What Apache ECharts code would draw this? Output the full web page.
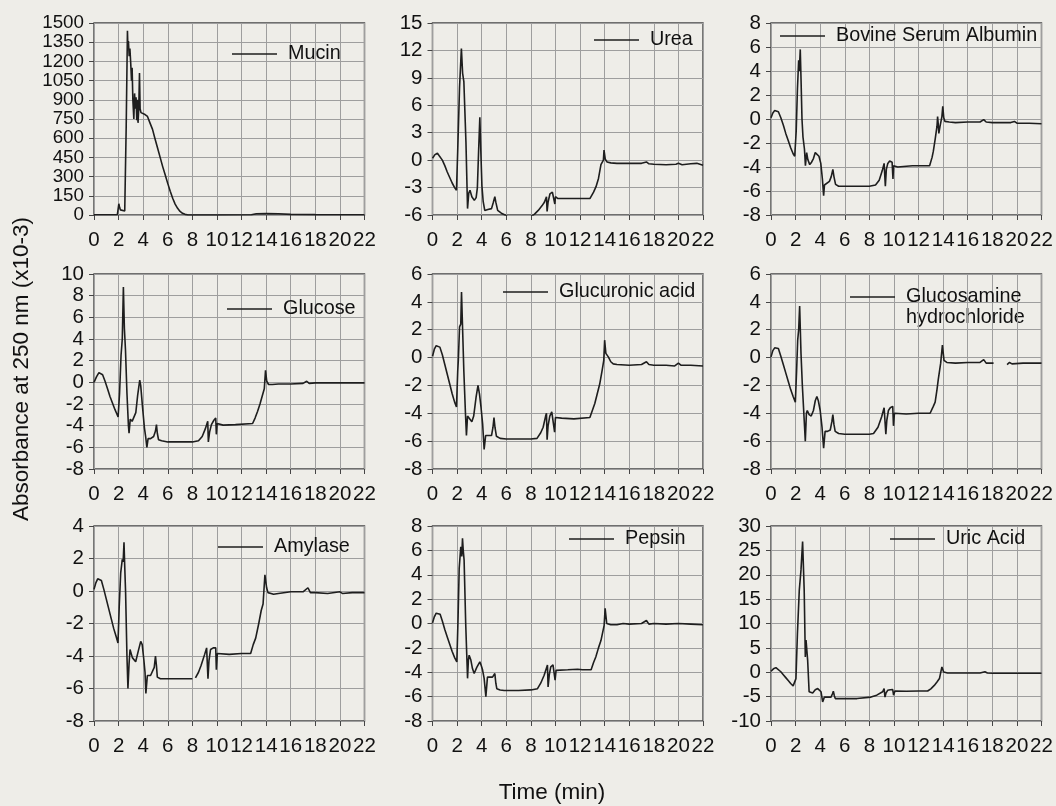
<!DOCTYPE html>
<html>
<head>
<meta charset="utf-8">
<script src="https://cdn.jsdelivr.net/npm/echarts@6/dist/echarts.min.js"></script>
<style>
  html, body { margin: 0; padding: 0; background: #eeede8; }
  #chart { width: 1056px; height: 806px; }
</style>
</head>
<body>
<div id="chart"></div>
<script>
// Chromatograms of nine compounds: absorbance at 250 nm (x10-3) against time (min).
// Each trace is a list of [time, absorbance] pairs; a null value breaks the trace.

const mucin = [
  [0,2],[1,2],[1.9,3],[1.97,10],[2.02,88],[2.08,60],[2.15,40],[2.3,30],[2.5,32],[2.55,40],
  [2.62,700],[2.72,1440],[2.76,1300],[2.8,1360],[2.86,1240],[2.92,1300],[2.99,1180],[3.05,1050],
  [3.1,1150],[3.16,900],[3.24,750],[3.3,950],[3.36,830],[3.42,920],[3.48,740],[3.52,900],
  [3.58,720],[3.64,830],[3.7,1110],[3.75,830],[3.82,800],[3.95,795],[4.15,785],[4.35,770],
  [4.55,720],[4.76,669],[4.95,600],[5.17,524],[5.38,450],[5.58,380],[5.8,310],[5.99,249],
  [6.2,185],[6.4,131],[6.6,85],[6.8,52],[7.0,28],[7.2,13],[7.4,5],[7.65,0],[10,0],
  [12.8,2],[13.2,10],[14,12],[15,10],[16,5],[18,3],[20,2],[22,2]
];

const urea = [
  [0,0.2],[0.2,0.6],[0.4,0.75],[0.55,0.6],[0.8,0],[1.0,-0.6],[1.2,-1.3],[1.4,-1.9],[1.6,-2.5],
  [1.8,-3.0],[1.95,-3.3],[2.05,1],[2.2,8],[2.35,12.2],[2.45,9.5],[2.55,8.6],[2.62,8.8],[2.72,2],
  [2.85,-5.3],[2.95,-3.6],[3.05,-3.3],[3.2,-4.0],[3.4,-4.4],[3.55,-4.1],[3.65,-3],[3.75,1],
  [3.85,4.7],[3.93,1],[4.02,-2.8],[4.12,-4.5],[4.25,-5.5],[4.5,-5.4],[4.8,-5.3],[4.95,-4.6],
  [5.07,-4.0],[5.15,-4.6],[5.3,-5.5],[5.6,-5.8],[5.9,-6.0],[6.2,-6.3],[7.5,-6.4],[8.0,-6.2],
  [8.3,-5.9],[8.6,-5.5],[8.9,-5.0],[9.1,-4.6],[9.27,-4.0],[9.32,-5.6],[9.4,-4.6],[9.55,-3.7],
  [9.75,-3.5],[9.9,-3.5],[9.95,-4.8],[10.0,-4.0],[10.2,-4.2],[11,-4.2],[12,-4.2],[12.8,-4.2],
  [13.1,-3.5],[13.3,-2.9],[13.5,-2.0],[13.7,-0.5],[13.9,0],[13.95,1.1],[14.05,0.1],[14.2,-0.2],
  [14.5,-0.3],[15,-0.35],[16,-0.35],[17,-0.35],[17.4,-0.2],[17.6,-0.4],[18,-0.45],[19,-0.5],
  [19.8,-0.45],[20,-0.35],[20.3,-0.5],[21,-0.4],[21.5,-0.35],[22,-0.55]
];

const bsa = [
  [0,0.1],[0.15,0.5],[0.3,0.7],[0.45,0.75],[0.6,0.6],[0.8,0.1],[1.0,-0.5],[1.2,-1.2],[1.4,-1.8],
  [1.6,-2.4],[1.8,-2.9],[1.93,-3.1],[2.05,-1],[2.15,2.5],[2.25,4.9],[2.3,4.0],[2.38,5.8],[2.45,3],
  [2.52,0],[2.6,-1.5],[2.72,-2.5],[2.8,-3.9],[2.9,-2.8],[3.0,-3.4],[3.15,-3.8],[3.3,-3.6],
  [3.45,-3.3],[3.6,-2.8],[3.75,-2.75],[3.9,-3.1],[4.05,-3.7],[4.18,-5.0],[4.28,-6.4],[4.35,-5.5],
  [4.5,-5.4],[4.75,-5.2],[4.9,-4.8],[5.03,-4.2],[5.12,-4.8],[5.25,-5.45],[5.5,-5.6],[6,-5.6],
  [7,-5.6],[8,-5.6],[8.5,-5.5],[8.8,-5.1],[9.05,-4.3],[9.2,-3.7],[9.27,-3.6],[9.3,-5.6],
  [9.38,-4.2],[9.5,-3.7],[9.65,-3.5],[9.85,-3.6],[9.92,-5.0],[9.97,-3.9],[10.3,-4.0],
  [11.5,-3.9],[12.9,-3.9],[13.1,-3.2],[13.2,-2.7],[13.35,-1.7],[13.5,-0.6],[13.55,0.2],
  [13.6,-0.4],[13.65,-1.2],[13.75,-0.6],[13.9,0.2],[13.97,1.05],[14.05,0.1],[14.15,-0.2],
  [14.5,-0.25],[15,-0.3],[16,-0.25],[17,-0.25],[17.3,-0.05],[17.5,-0.25],[18,-0.3],[19.5,-0.3],
  [19.8,-0.2],[20,-0.35],[21,-0.35],[22,-0.4]
];

const glucose = [
  [0,0],[0.2,0.5],[0.4,0.9],[0.55,0.95],[0.7,0.7],[0.9,0.1],[1.1,-0.6],[1.3,-1.3],[1.5,-1.9],
  [1.7,-2.5],[1.85,-2.9],[1.96,-3.2],[2.08,-1],[2.2,2.5],[2.3,4],[2.39,8.8],[2.47,5],[2.56,3],
  [2.68,-1],[2.8,-4.0],[2.85,-4.7],[2.95,-3.4],[3.1,-3.6],[3.26,-3.7],[3.4,-2.8],[3.55,-1.2],
  [3.72,0.2],[3.8,-0.3],[3.94,-2.2],[4.1,-4.2],[4.2,-5.0],[4.3,-6.0],[4.4,-5.2],[4.6,-5.2],
  [4.85,-5.0],[5.0,-4.5],[5.08,-3.9],[5.15,-4.7],[5.25,-5.3],[5.5,-5.4],[6,-5.5],[7,-5.5],
  [8,-5.5],[8.5,-5.4],[8.8,-5.0],[9.05,-4.3],[9.25,-3.6],[9.3,-5.5],[9.4,-4.6],[9.55,-3.9],
  [9.75,-3.5],[9.9,-3.3],[9.95,-4.8],[10.02,-3.8],[10.5,-3.95],[11.5,-3.9],[12.9,-3.8],
  [13.1,-3.3],[13.3,-2.7],[13.5,-2.0],[13.7,-1.2],[13.85,-0.6],[13.95,1.1],[14.05,0.1],
  [14.2,-0.2],[14.5,-0.2],[15,-0.15],[16,-0.15],[17,-0.1],[17.3,0.1],[17.5,-0.1],[18,-0.05],
  [20,-0.05],[22,-0.05]
];

const glucuronicAcid = [
  [0,0.1],[0.15,0.6],[0.3,0.85],[0.45,0.9],[0.6,0.75],[0.8,0.2],[1.0,-0.5],[1.2,-1.2],
  [1.4,-1.9],[1.6,-2.6],[1.8,-3.2],[1.95,-3.55],[2.05,-1],[2.1,-0.2],[2.2,2.2],[2.3,2.4],
  [2.36,4.7],[2.45,2],[2.55,-1],[2.68,-4],[2.76,-5.6],[2.85,-4.2],[3.0,-4.3],[3.2,-4.6],
  [3.35,-4.2],[3.55,-2.8],[3.7,-2.0],[3.82,-2.6],[3.95,-3.6],[4.08,-4.8],[4.2,-6.6],
  [4.32,-5.6],[4.5,-5.6],[4.8,-5.6],[4.92,-5.0],[5.0,-4.3],[5.08,-5.0],[5.2,-5.65],[5.5,-5.8],
  [6,-5.85],[7,-5.85],[8,-5.85],[8.5,-5.8],[8.8,-5.4],[9.0,-5.0],[9.2,-4.2],[9.27,-4.0],
  [9.32,-5.9],[9.4,-4.9],[9.54,-4.2],[9.7,-3.9],[9.86,-3.8],[9.93,-5.35],[10.0,-4.3],
  [10.5,-4.35],[11.5,-4.4],[12.8,-4.3],[13.0,-3.8],[13.2,-3.3],[13.4,-2.6],[13.6,-1.9],
  [13.8,-0.9],[13.93,-0.2],[14.0,1.25],[14.1,0.3],[14.2,0.35],[14.3,0.05],[14.5,-0.3],
  [14.7,-0.45],[15,-0.5],[16,-0.55],[17,-0.5],[17.4,-0.3],[17.6,-0.5],[18,-0.55],[19,-0.55],
  [19.7,-0.6],[20,-0.4],[20.2,-0.55],[21,-0.55],[22,-0.6]
];

const glucosamineHcl = [
  [0,0.05],[0.15,0.5],[0.3,0.7],[0.45,0.78],[0.6,0.65],[0.8,0.1],[1.0,-0.5],[1.2,-1.1],
  [1.4,-1.7],[1.6,-2.3],[1.8,-2.8],[1.98,-3.2],[2.08,-1],[2.17,1.25],[2.25,2],[2.33,3.7],
  [2.44,0.3],[2.55,-2],[2.7,-4.5],[2.79,-6.0],[2.88,-4],[2.95,-3.8],[3.1,-4.1],[3.27,-4.2],
  [3.45,-3.8],[3.6,-3.1],[3.73,-2.8],[3.85,-3.1],[4.0,-3.8],[4.15,-5.0],[4.28,-6.5],[4.4,-5.3],
  [4.6,-5.3],[4.82,-5.2],[4.95,-4.6],[5.03,-4.1],[5.12,-4.8],[5.22,-5.3],[5.5,-5.45],[6,-5.5],
  [7,-5.5],[8,-5.5],[8.34,-5.45],[8.7,-5.0],[9.0,-4.25],[9.2,-3.6],[9.28,-3.5],[9.34,-5.5],
  [9.42,-4.5],[9.55,-3.8],[9.7,-3.6],[9.9,-3.5],[9.96,-4.9],[10.04,-4.0],[11,-4.05],[12,-4.0],
  [12.94,-4.0],[13.2,-3.5],[13.35,-3.2],[13.5,-2.3],[13.6,-1.6],[13.8,-0.4],[13.94,0.9],
  [14.07,-0.2],[14.3,-0.35],[15,-0.4],[16,-0.35],[17,-0.35],[17.3,-0.15],[17.5,-0.4],
  [18.1,-0.4],[18.6,null],[19.2,-0.5],[19.4,-0.35],[19.6,-0.45],[20.5,-0.4],[21,-0.4],[22,-0.4]
];

const amylase = [
  [0,0.1],[0.15,0.5],[0.3,0.75],[0.45,0.8],[0.6,0.65],[0.8,0.1],[1.0,-0.5],[1.2,-1.1],
  [1.4,-1.7],[1.6,-2.3],[1.8,-2.8],[1.95,-3.2],[2.05,-1],[2.17,1.1],[2.3,1.95],[2.37,1.8],
  [2.44,3.0],[2.5,1.5],[2.57,-0.1],[2.68,-4],[2.76,-6.0],[2.85,-4.5],[2.93,-3.6],[3.12,-4.1],
  [3.39,-4.35],[3.6,-3.7],[3.8,-3.1],[3.92,-3.3],[4.05,-4.2],[4.15,-5.0],[4.22,-6.3],
  [4.34,-5.2],[4.6,-5.2],[4.74,-5.2],[4.9,-4.7],[5.0,-4.0],[5.08,-4.6],[5.15,-5.3],[5.4,-5.4],
  [6,-5.4],[7,-5.4],[8.0,-5.4],[8.1,null],[8.25,-5.35],[8.5,-5.0],[8.7,-4.6],[9.0,-3.9],
  [9.16,-3.5],[9.27,-5.4],[9.35,-4.3],[9.48,-3.6],[9.7,-3.5],[9.9,-3.5],[9.95,-4.85],
  [10.03,-3.85],[11,-3.9],[12,-3.85],[12.74,-3.85],[12.95,-3.3],[13.15,-2.9],[13.4,-2.0],
  [13.6,-1.2],[13.75,-0.8],[13.9,1.0],[14.04,0.2],[14.15,-0.1],[14.4,-0.15],[14.6,-0.2],
  [15,-0.15],[16,-0.05],[17,-0.05],[17.4,0.2],[17.6,-0.1],[18,-0.1],[19,-0.15],[20,-0.05],
  [20.2,-0.15],[21,-0.1],[22,-0.1]
];

const pepsin = [
  [0,0.05],[0.15,0.55],[0.3,0.85],[0.46,0.9],[0.62,0.75],[0.8,0.2],[1.0,-0.5],[1.2,-1.1],
  [1.4,-1.7],[1.6,-2.3],[1.8,-2.8],[1.98,-3.15],[2.08,0.5],[2.17,4.5],[2.3,6.3],[2.38,5.5],
  [2.44,7.0],[2.5,6.0],[2.57,5.2],[2.7,0],[2.85,-4.5],[2.92,-3.0],[2.98,-2.6],[3.12,-3.0],
  [3.25,-3.7],[3.39,-4.1],[3.6,-3.6],[3.85,-3.15],[3.95,-3.4],[4.07,-3.8],[4.2,-4.5],
  [4.34,-6.0],[4.47,-4.4],[4.7,-4.4],[4.88,-4.4],[5.0,-4.3],[5.07,-4.1],[5.15,-4.9],
  [5.23,-5.35],[5.5,-5.45],[5.83,-5.5],[7,-5.5],[8,-5.45],[8.54,-5.35],[8.8,-4.9],[9.08,-4.25],
  [9.35,-3.4],[9.4,-5.2],[9.5,-4.2],[9.62,-3.55],[9.8,-3.4],[9.9,-3.3],[9.97,-4.65],
  [10.05,-3.85],[11,-3.8],[11.8,-3.75],[12.2,-3.8],[12.9,-3.8],[13.1,-3.2],[13.28,-2.75],
  [13.5,-2.0],[13.7,-1.4],[13.96,-0.15],[14.04,1.25],[14.17,0],[14.5,-0.1],[15,-0.1],[15.5,0],
  [16,-0.05],[17,0],[17.4,0.25],[17.6,-0.05],[18,0],[19,-0.05],[20,0],[21,-0.05],[22,-0.1]
];

const uricAcid = [
  [0,0.2],[0.2,0.7],[0.4,0.95],[0.55,0.85],[0.8,0.1],[1.0,-0.5],[1.2,-1.1],[1.4,-1.7],
  [1.6,-2.3],[1.8,-2.8],[1.9,-3.0],[2.03,-1.3],[2.15,8],[2.3,16.8],[2.44,21],[2.57,26.8],
  [2.7,16.8],[2.79,3.15],[2.85,6.6],[2.9,5],[2.98,2.5],[3.1,-4.0],[3.25,-4.3],[3.39,-4.25],
  [3.6,-3.6],[3.8,-3.35],[3.95,-3.6],[4.07,-4.0],[4.2,-6.1],[4.34,-5.1],[4.6,-5.1],[4.88,-5.1],
  [5.0,-4.4],[5.07,-3.9],[5.15,-4.8],[5.23,-5.4],[5.5,-5.4],[6,-5.4],[7,-5.4],[8.13,-5.1],
  [8.6,-4.7],[9.08,-4.0],[9.2,-3.35],[9.27,-5.1],[9.35,-4.3],[9.49,-3.7],[9.7,-3.6],[9.9,-3.55],
  [9.97,-4.7],[10.08,-3.85],[11,-3.9],[12,-3.85],[12.74,-3.85],[13.0,-3.4],[13.28,-2.7],
  [13.5,-2.0],[13.7,-1.3],[13.9,1.1],[14.04,0.05],[14.36,-0.15],[15,-0.15],[16,-0.15],
  [17,-0.15],[17.4,0.1],[17.6,-0.15],[18,-0.2],[20,-0.2],[22,-0.2]
];

// Panel order: left to right, top to bottom
const seriesNames = ['Mucin', 'Urea', 'Bovine Serum Albumin', 'Glucose', 'Glucuronic acid',
  'Glucosamine hydrochloride', 'Amylase', 'Pepsin', 'Uric Acid'];
const seriesData = [mucin, urea, bsa, glucose, glucuronicAcid, glucosamineHcl, amylase, pepsin, uricAcid];

// Y axis scales per panel
const yMin  = [0, -6, -8, -8, -8, -8, -8, -8, -10];
const yMax  = [1500, 15, 8, 10, 6, 6, 4, 8, 30];
const yStep = [150, 3, 2, 2, 2, 2, 2, 2, 5];

// Shared time axis
const timeMin = 0, timeMax = 22, timeStep = 2;

const xTitle = 'Time (min)';
const yTitle = 'Absorbance at 250 nm (x10-3)';

// ---- layout ----
const colLeft = [94, 432.5, 771];
const rowTop = [23, 274, 526];
const rowHeight = [192, 195, 195];
const plotWidth = 270.5;
// legend line start (x) and vertical centre (y) for each panel
const legendAt = [[232, 53], [594, 39], [780, 35], [227, 308], [503, 291], [850, 296],
  [218, 546], [569, 538], [890, 538]];

const FONT = "'Liberation Sans', Arial, sans-serif";
const INK = '#111111';
const TRACE = '#1e1e1e';
const TICK_FONT = 20.5;
const LEGEND_FONT = 19.8;
// the mucin scale has eleven labels packed at ~19 px, so its labels are a touch smaller
const Y_TICK_FONT = [18.8, TICK_FONT, TICK_FONT, TICK_FONT, TICK_FONT, TICK_FONT, TICK_FONT, TICK_FONT, TICK_FONT];
const LEGEND_HALF_H = 9;  // half the height of a legend row
// plain line swatch for the legend (kept to its aspect inside the item box)
const LEGEND_ICON = 'path://M0,0 L45,0 L45,1.6 L0,1.6 Z';

const grids = [], xAxes = [], yAxes = [], series = [], legends = [];

for (let i = 0; i < 9; i++) {
  const r = Math.floor(i / 3), c = i % 3;
  grids.push({
    left: colLeft[c], top: rowTop[r], width: plotWidth, height: rowHeight[r],
    show: true, backgroundColor: 'transparent', borderColor: '#454545', borderWidth: 1.4
  });
  xAxes.push({
    gridIndex: i, type: 'value', min: timeMin, max: timeMax, interval: timeStep,
    axisLine: { show: false, onZero: false },
    axisTick: { show: true, length: 5, inside: false, lineStyle: { color: '#454545' } },
    axisLabel: { margin: 15, fontFamily: FONT, fontSize: TICK_FONT, color: INK,
                 showMinLabel: true, showMaxLabel: true, formatter: (v) => String(v) },
    splitLine: { show: true, lineStyle: { color: '#9e9e9e', width: 1 } }
  });
  yAxes.push({
    gridIndex: i, type: 'value', min: yMin[i], max: yMax[i], interval: yStep[i],
    axisLine: { show: false, onZero: false },
    axisTick: { show: true, length: 5, inside: false, lineStyle: { color: '#454545' } },
    axisLabel: { margin: 10, fontFamily: FONT, fontSize: Y_TICK_FONT[i], color: INK,
                 showMinLabel: true, showMaxLabel: true, hideOverlap: false,
                 formatter: (v) => String(v) },
    splitLine: { show: true, lineStyle: { color: '#9e9e9e', width: 1 } }
  });
  series.push({
    name: seriesNames[i], type: 'line', xAxisIndex: i, yAxisIndex: i,
    data: seriesData[i], symbol: 'none', showSymbol: false, clip: true,
    connectNulls: false, animation: false,
    lineStyle: { color: TRACE, width: 1.6 }, itemStyle: { color: TRACE }
  });
  legends.push({
    data: [seriesNames[i]], left: legendAt[i][0], top: legendAt[i][1] - LEGEND_HALF_H,
    orient: 'horizontal', padding: 0, itemWidth: 45, itemHeight: 12,
    icon: LEGEND_ICON, selectedMode: false,
    formatter: (n) => n === 'Glucosamine hydrochloride' ? 'Glucosamine' : n,
    textStyle: { fontFamily: FONT, fontSize: LEGEND_FONT, color: INK, padding: [0, 0, 0, 6] }
  });
}

const chart = echarts.init(document.getElementById('chart'), null, { renderer: 'canvas' });
chart.setOption({
  backgroundColor: '#eeede8',
  animation: false,
  grid: grids,
  xAxis: xAxes,
  yAxis: yAxes,
  series: series,
  legend: legends,
  graphic: [
    {
      type: 'text', x: 906, y: 318,
      style: { text: 'hydrochloride', font: LEGEND_FONT + "px 'Liberation Sans', Arial, sans-serif",
               fill: INK, align: 'left', verticalAlign: 'middle' }
    },
    {
      type: 'text', x: 552, y: 793,
      style: { text: xTitle, font: "22.5px 'Liberation Sans', Arial, sans-serif", fill: INK,
               align: 'center', verticalAlign: 'middle' }
    },
    {
      type: 'text', x: 22, y: 369, rotation: Math.PI / 2,
      style: { text: yTitle, font: "22.5px 'Liberation Sans', Arial, sans-serif", fill: INK,
               align: 'center', verticalAlign: 'middle' }
    }
  ]
});
</script>
</body>
</html>
